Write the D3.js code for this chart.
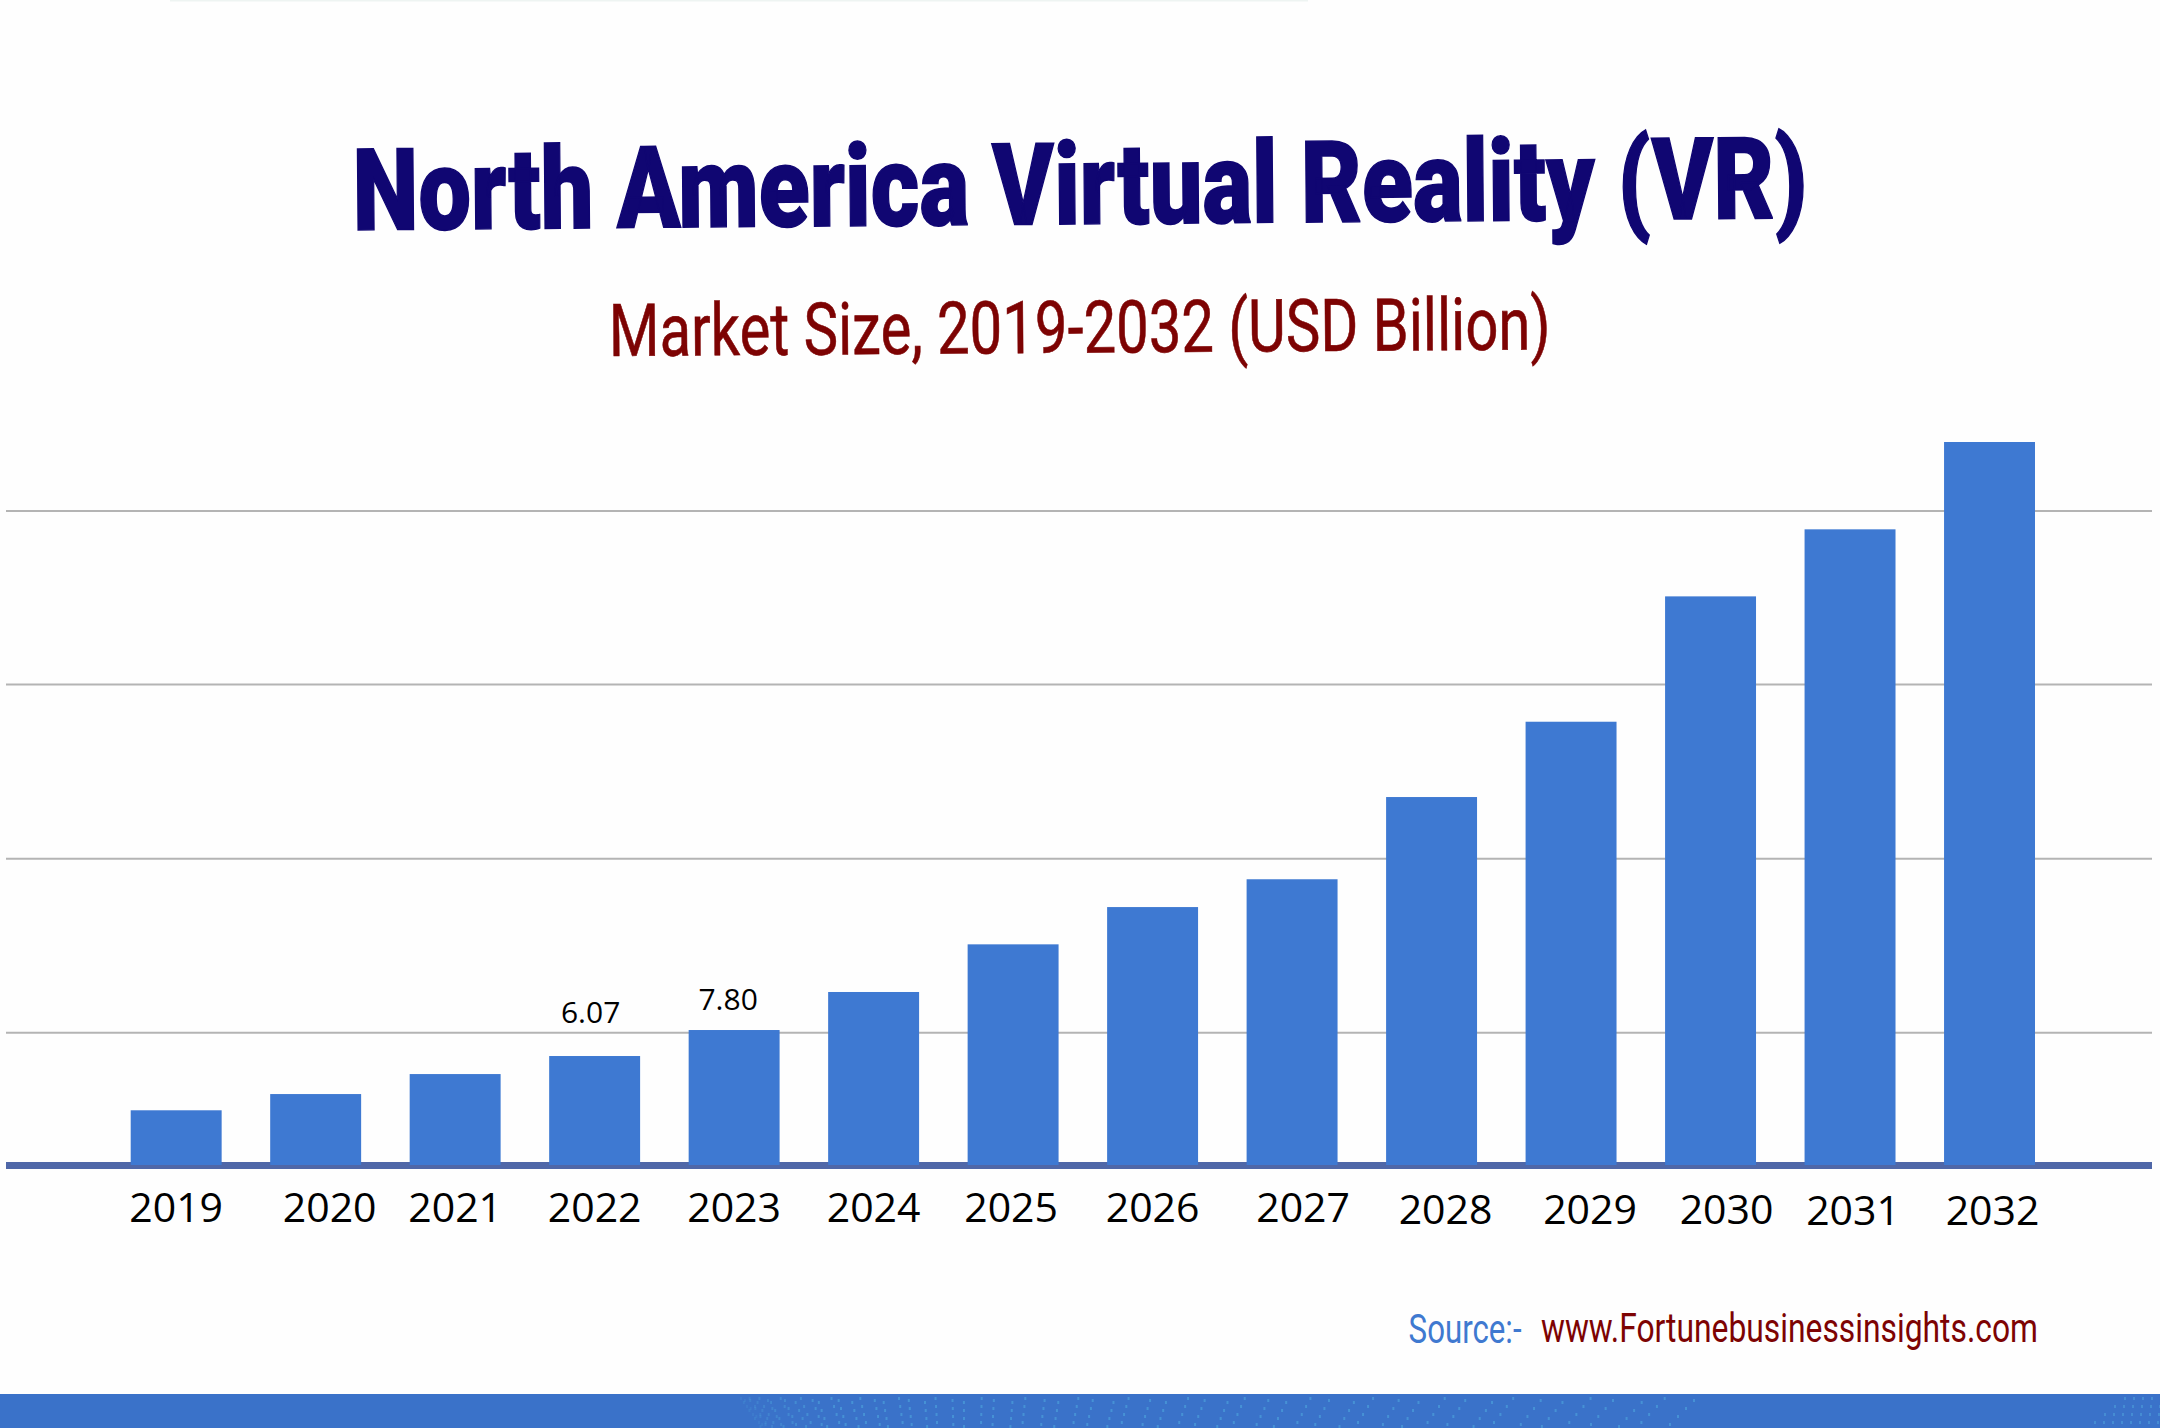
<!DOCTYPE html>
<html>
<head>
<meta charset="utf-8">
<title>North America Virtual Reality (VR)</title>
<script src="https://cdn.jsdelivr.net/npm/d3@7"></script>
<style>
    html, body { margin: 0; padding: 0; background: #fefefe; }
    svg { display: block; }
    text { font-family: Roboto, sans-serif; }
    .tick text, .value-label { font-family: "Open Sans", sans-serif; }
</style>
</head>
<body>
<div id="chart"></div>
<script>
// Values, only 2022 and 2023 are printed in it
const years = ['2019', '2020', '2021', '2022', '2023', '2024', '2025', '2026', '2027', '2028', '2029', '2030', '2031', '2032'];
const marketSize = [2.46, 3.54, 4.87, 6.07, 7.80, 10.33, 13.50, 15.98, 17.83, 23.30, 28.31, 36.65, 41.11, 46.92];
const labelledYears = ['2022', '2023'];
const gridValues = [7.62, 19.20, 30.78, 42.33];

// The year labels sit by hand in the original, not centered on the bars
const tickNudgeX = [0, 14, 0, 0, 0, 0, -2, 0, 11, 14, 19, 16, 3, 3];
const tickNudgeY = [0, 0, 0, 0, 0, 0, 0, 0, 0, 2, 2, 2, 3, 3];

const width = 2160;
const height = 1428;

const svg = d3.select('#chart').append('svg')
    .attr('width', width)
    .attr('height', height);

const xScale = d3.scaleBand()
    .domain(years)
    .range([130.7, 2035])
    .paddingInner(0.348)
    .paddingOuter(0);

// The baseline of the picture is not at zero
const yScale = d3.scaleLinear()
    .domain([-1.18, 46.92])
    .range([1165, 442]);

// Squeezes a text to a wanted width, the original fonts are condensed
function squeezedText(x, y, angle, targetWidth, size, weight, color, content) {
    const node = svg.append('text')
        .attr('font-size', size)
        .attr('font-weight', weight)
        .attr('fill', color)
        .text(content);
    const sx = targetWidth / node.node().getComputedTextLength();
    node.attr('transform', `translate(${x},${y}) rotate(${angle}) scale(${sx},1)`);
    return node;
}

// Faint strip on the top edge
svg.append('rect')
    .attr('x', 170).attr('y', 0)
    .attr('width', 1138).attr('height', 1.5)
    .attr('fill', '#eef4f2');

// Titles
squeezedText(353, 230, -0.47, 1455, 114, 900, '#100672', 'North America Virtual Reality (VR)')
    .attr('stroke', '#100672')
    .attr('stroke-width', 1.5);

squeezedText(609, 356, -0.4, 942, 73, 400, '#7d0303', 'Market Size, 2019-2032 (USD Billion)')
    .attr('stroke', '#7d0303')
    .attr('stroke-width', 0.6);

// Gridlines
svg.selectAll('.grid')
    .data(gridValues)
    .enter()
    .append('line')
    .attr('class', 'grid')
    .attr('x1', 6)
    .attr('x2', 2152)
    .attr('y1', d => yScale(d))
    .attr('y2', d => yScale(d))
    .attr('stroke', '#b4b4b4')
    .attr('stroke-width', 2);

// Baseline band
svg.append('line')
    .attr('x1', 6)
    .attr('x2', 2152)
    .attr('y1', 1165.5)
    .attr('y2', 1165.5)
    .attr('stroke', '#4f67a8')
    .attr('stroke-width', 7);

// Bars
svg.selectAll('.bar')
    .data(years)
    .enter()
    .append('rect')
    .attr('class', 'bar')
    .attr('x', d => xScale(d))
    .attr('y', (d, i) => yScale(marketSize[i]))
    .attr('width', xScale.bandwidth())
    .attr('height', (d, i) => yScale.range()[0] - yScale(marketSize[i]))
    .attr('fill', '#3e79d2');

// Year axis
const axis = svg.append('g')
    .attr('transform', 'translate(0,1165)')
    .call(d3.axisBottom(xScale).tickSize(0));

axis.select('.domain').remove();
axis.selectAll('.tick text')
    .attr('font-size', 41)
    .attr('fill', '#000')
    .attr('dy', 0)
    .attr('x', (d, i) => tickNudgeX[i])
    .attr('y', (d, i) => 57 + tickNudgeY[i]);

// Value labels
const labelNudge = { '2022': [-4, -33], '2023': [-6, -20] };

svg.selectAll('.value-label')
    .data(labelledYears)
    .enter()
    .append('text')
    .attr('class', 'value-label')
    .attr('x', d => xScale(d) + xScale.bandwidth() / 2 + labelNudge[d][0])
    .attr('y', d => yScale(marketSize[years.indexOf(d)]) + labelNudge[d][1])
    .attr('text-anchor', 'middle')
    .attr('font-size', 30)
    .attr('fill', '#000')
    .text(d => marketSize[years.indexOf(d)].toFixed(2));

// Source line
squeezedText(1408.6, 1343, 0, 113, 41, 400, '#3f79d0', 'Source:-');
squeezedText(1541, 1342, 0, 497, 41, 400, '#7d0303', 'www.Fortunebusinessinsights.com');

// Footer band with its dot texture
svg.append('rect')
    .attr('x', 0).attr('y', 1394)
    .attr('width', width).attr('height', 34)
    .attr('fill', '#3a72c9');

const dots = svg.append('g').attr('fill', '#4fa6de');
for (let col = 0; col < 62; col++) {
    for (let row = 0; row < 4; row++) {
        const t = col / 61;
        const px = 740 + 950 * Math.pow(t, 1.7) + row * (6 - 14 * t) + (col % 2) * 3;
        dots.append('rect')
            .attr('x', px)
            .attr('y', 1397 + row * 8 + (col % 3) * 2)
            .attr('width', 2)
            .attr('height', 3)
            .attr('opacity', 0.15 + 0.45 * Math.min(1, t * 4));
    }
}
for (let col = 0; col < 9; col++) {
    for (let row = 0; row < 4; row++) {
        const px = 2124 - row * 10 + col * 9;
        if (px < width) {
            dots.append('rect')
                .attr('x', px)
                .attr('y', 1397 + row * 8)
                .attr('width', 2)
                .attr('height', 3)
                .attr('opacity', 0.5);
        }
    }
}
</script>
</body>
</html>
